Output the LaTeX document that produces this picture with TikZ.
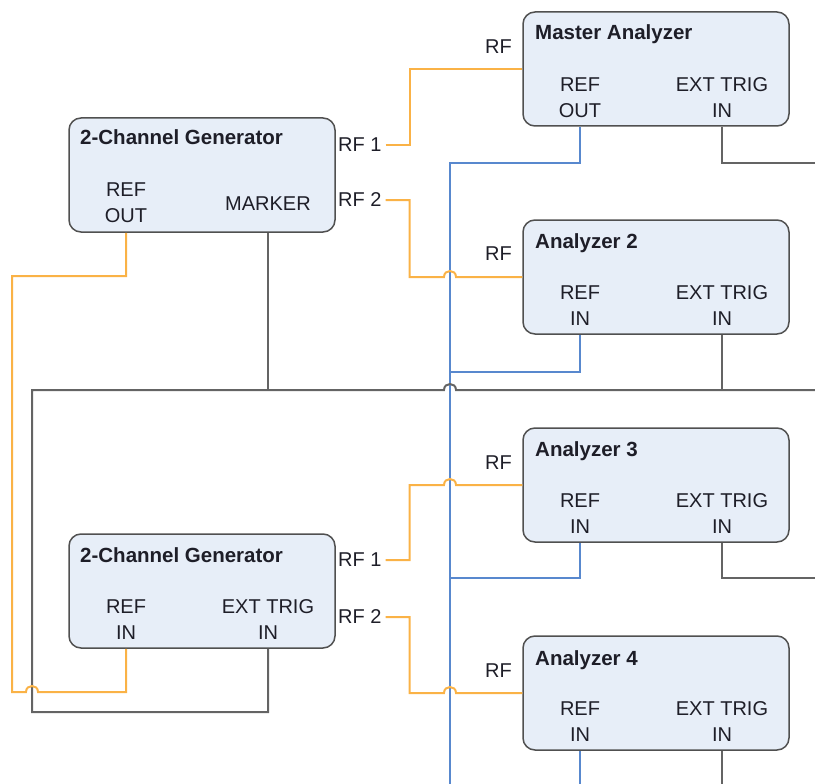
\documentclass[tikz,border=0pt]{standalone}
\usepackage{fontspec}
\setmainfont{Liberation Sans}
\usetikzlibrary{calc}
\definecolor{boxfill}{RGB}{231,238,248}
\definecolor{boxline}{RGB}{80,80,80}
\definecolor{orangeline}{RGB}{250,178,70}
\definecolor{blueline}{RGB}{88,136,206}
\definecolor{grayline}{RGB}{100,100,100}
\definecolor{txt}{RGB}{30,30,40}
\begin{document}
\begin{tikzpicture}[x=1pt,y=-1pt,
  box/.style={draw=boxline, line width=1.5pt, fill=boxfill, rounded corners=12pt,
    minimum width=266pt, minimum height=114pt, inner sep=0pt},
  ttl/.style={anchor=base west, font=\fontsize{20.5}{24}\selectfont\bfseries, text=txt, inner sep=0pt},
  port/.style={align=center, font=\fontsize{20}{26}\selectfont, text=txt, inner sep=0pt},
  lbl/.style={font=\fontsize{20}{24}\selectfont, text=txt, inner sep=0pt},
  org/.style={draw=orangeline, line width=2pt},
  blu/.style={draw=blueline, line width=1.6pt},
  gry/.style={draw=grayline, line width=2pt}]
\useasboundingbox (0,0) rectangle (815,784);

% boxes
\node[box] (ma) at (656,69) {};
\node[box] (a2) at (656,277) {};
\node[box] (a3) at (656,485) {};
\node[box] (a4) at (656,693) {};
\node[box] (g1) at (202,175) {};
\node[box] (g2) at (202,591) {};

% titles
\node[ttl] (maT) at (535,40) {Master Analyzer};
\node[ttl] (a2T) at (535,248) {Analyzer 2};
\node[ttl] (a3T) at (535,456) {Analyzer 3};
\node[ttl] (a4T) at (535,665) {Analyzer 4};
\node[ttl] (g1T) at (80,145) {2-Channel Generator};
\node[ttl] (g2T) at (80,562) {2-Channel Generator};

% ports
\node[port] (maref) at (580,98) {REF\\OUT};
\node[port] (maext) at (722,98) {EXT TRIG\\IN};
\node[port] (a2ref) at (580,306) {REF\\IN};
\node[port] (a2ext) at (722,306) {EXT TRIG\\IN};
\node[port] (a3ref) at (580,514) {REF\\IN};
\node[port] (a3ext) at (722,514) {EXT TRIG\\IN};
\node[port] (a4ref) at (580,722) {REF\\IN};
\node[port] (a4ext) at (722,722) {EXT TRIG\\IN};
\node[port] (g1ref) at (126,203) {REF\\OUT};
\node[port] (g1mk) at (268,204) {MARKER};
\node[port] (g2ref) at (126,620) {REF\\IN};
\node[port] (g2ext) at (268,620) {EXT TRIG\\IN};

% outside labels
\node[lbl, anchor=west] (g1rf1) at (338,145) {RF 1};
\node[lbl, anchor=west] (g1rf2) at (338,200) {RF 2};
\node[lbl, anchor=west] (g2rf1) at (338,560) {RF 1};
\node[lbl, anchor=west] (g2rf2) at (338,617) {RF 2};
\node[lbl, anchor=east] (marf) at (512,47) {RF};
\node[lbl, anchor=east] (a2rf) at (512,254) {RF};
\node[lbl, anchor=east] (a3rf) at (512,463) {RF};
\node[lbl, anchor=east] (a4rf) at (512,671) {RF};

% helper coordinates
\coordinate (bottomedge) at (0,784);
\coordinate (bus) at (450,163);
\coordinate (b2) at (450,372);
\coordinate (b3) at (450,578);
\coordinate (trigR1) at (815,163);
\coordinate (trigR3) at (815,578);
\coordinate (busL) at (32,390);
\coordinate (busR) at (815,390);
\coordinate (loopL) at (12,276);
\coordinate (loopB) at (12,692);
\coordinate (dropB) at (32,712);

% blue reference lines
\draw[blu] (ma.south -| maref) -- (maref |- bus) -- (bus) -- (bus |- bottomedge);
\draw[blu] (a2.south -| a2ref) |- (b2);
\draw[blu] (a3.south -| a3ref) |- (b3);
\draw[blu] (a4.south -| a4ref) -- (a4ref |- bottomedge);

% gray trigger lines
\draw[gry] (ma.south -| maext) |- (trigR1);
\draw[gry] (a3.south -| a3ext) |- (trigR3);
\draw[gry] (a4.south -| a4ext) -- (a4ext |- bottomedge);
\draw[gry] (g1.south -| g1mk) -- (g1mk |- busL);
\draw[gry] (a2.south -| a2ext) -- (a2ext |- busL);
\draw[gry] (busR) -- ($(bus |- busL)+(6,0)$) .. controls +(0,-8) and +(0,-8) .. ($(bus |- busL)+(-6,0)$)
  -- (busL) -- (dropB) -| (g2.south -| g2ext);

% orange RF lines
\draw[org] ([xshift=4pt]g1rf1.east) -- ++(24,0) |- (ma.west);
\draw[org] ([xshift=4pt]g1rf2.east) -- ++(24,0) |- ($(bus |- a2.west)+(-6,0)$)
  .. controls +(0,-8) and +(0,-8) .. ($(bus |- a2.west)+(6,0)$) -- (a2.west);
\draw[org] ([xshift=4pt]g2rf1.east) -- ++(24,0) |- ($(bus |- a3.west)+(-6,0)$)
  .. controls +(0,-8) and +(0,-8) .. ($(bus |- a3.west)+(6,0)$) -- (a3.west);
\draw[org] ([xshift=4pt]g2rf2.east) -- ++(24,0) |- ($(bus |- a4.west)+(-6,0)$)
  .. controls +(0,-8) and +(0,-8) .. ($(bus |- a4.west)+(6,0)$) -- (a4.west);

% orange reference loop between generators
\draw[org] (g1.south -| g1ref) |- (loopL) -- (loopB) -- ($(busL |- loopB)+(-6,0)$)
  .. controls +(0,-8) and +(0,-8) .. ($(busL |- loopB)+(6,0)$) -| (g2.south -| g2ref);
\end{tikzpicture}
\end{document}
